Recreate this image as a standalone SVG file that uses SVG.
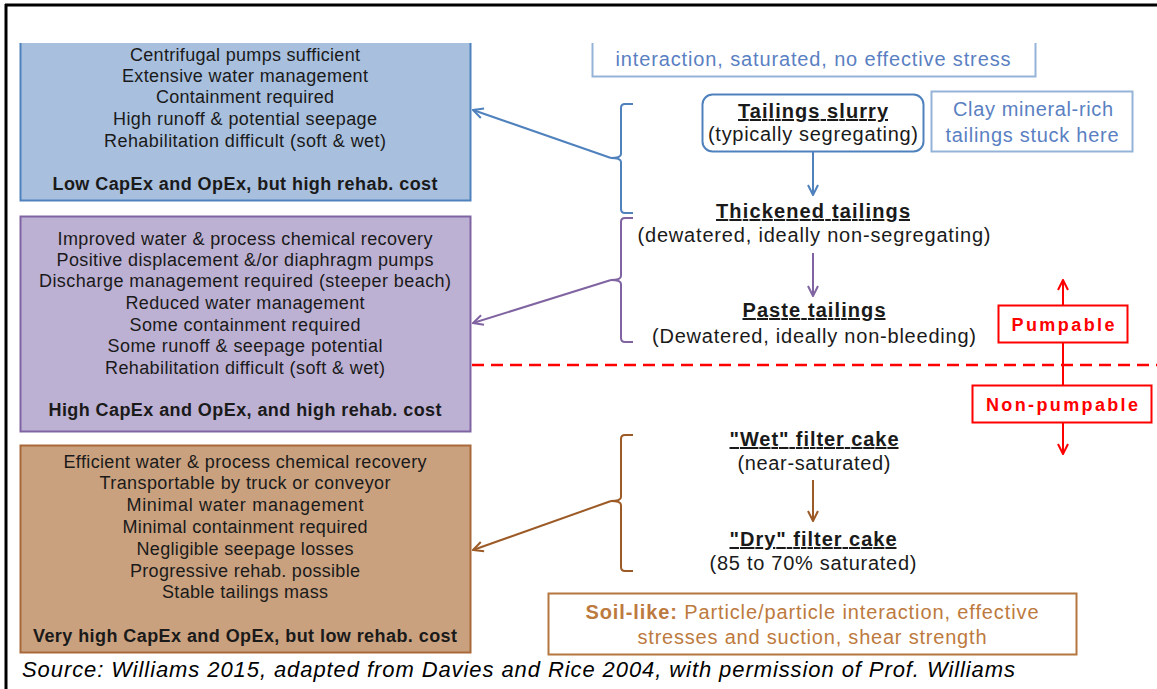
<svg xmlns="http://www.w3.org/2000/svg" width="1157" height="689" viewBox="0 0 1157 689">
<style>
text{font-family:"Liberation Sans",Arial,Helvetica,sans-serif;text-anchor:middle}
.bx{font-size:18px;fill:#1a1a1a}
.b{font-weight:bold}
.rt{font-size:20px;fill:#1a1a1a}
.hd{font-weight:bold;text-decoration:underline}
.lb{font-size:20px;fill:#5a7fc2}
.soil{font-size:20px;fill:#bd7a3e}
.red{font-size:18px;fill:#ff0000;font-weight:bold}
.cap{font-size:22px;font-style:italic;fill:#000;text-anchor:start}
.ln{fill:none;stroke-width:2}
</style>
<defs>
<marker id="ab" viewBox="0 0 12 12" refX="11" refY="6" markerWidth="12" markerHeight="12" markerUnits="userSpaceOnUse" orient="auto"><path d="M1,1 L11,6 L1,11" fill="none" stroke="#4f81bd" stroke-width="2"/></marker>
<marker id="ap" viewBox="0 0 12 12" refX="11" refY="6" markerWidth="12" markerHeight="12" markerUnits="userSpaceOnUse" orient="auto"><path d="M1,1 L11,6 L1,11" fill="none" stroke="#8064a2" stroke-width="2"/></marker>
<marker id="an" viewBox="0 0 12 12" refX="11" refY="6" markerWidth="12" markerHeight="12" markerUnits="userSpaceOnUse" orient="auto"><path d="M1,1 L11,6 L1,11" fill="none" stroke="#9c5a26" stroke-width="2"/></marker>
<marker id="ar" viewBox="0 0 12 12" refX="11" refY="6" markerWidth="12" markerHeight="12" markerUnits="userSpaceOnUse" orient="auto"><path d="M1,1 L11,6 L1,11" fill="none" stroke="#ff0000" stroke-width="2"/></marker>
</defs>
<rect width="1157" height="689" fill="#fff"/>
<g id="frame" stroke="#000" stroke-width="3" fill="none">
<line x1="5" y1="5" x2="1157" y2="5"/>
<line x1="6" y1="4" x2="6" y2="689"/>
</g>
<g id="box-blue">
<rect x="20" y="43" width="451" height="158" fill="#a8c0de"/>
<path d="M20.5,43 V200.5 H470.5 V43" fill="none" stroke="#4f81bd" stroke-width="2"/>
<text class="bx" x="245" y="61" textLength="230" lengthAdjust="spacing">Centrifugal pumps sufficient</text>
<text class="bx" x="245" y="82" textLength="246" lengthAdjust="spacing">Extensive water management</text>
<text class="bx" x="245" y="103" textLength="178" lengthAdjust="spacing">Containment required</text>
<text class="bx" x="245" y="125" textLength="264" lengthAdjust="spacing">High runoff &amp; potential seepage</text>
<text class="bx" x="245" y="147" textLength="282" lengthAdjust="spacing">Rehabilitation difficult (soft &amp; wet)</text>
<text class="bx b" x="245" y="190" textLength="385" lengthAdjust="spacing">Low CapEx and OpEx, but high rehab. cost</text>
</g>
<g id="box-purple">
<rect x="20.5" y="216.5" width="450" height="215" fill="#bdb1d3" stroke="#8064a2" stroke-width="2"/>
<text class="bx" x="245" y="245" textLength="375" lengthAdjust="spacing">Improved water &amp; process chemical recovery</text>
<text class="bx" x="245" y="266" textLength="377" lengthAdjust="spacing">Positive displacement &amp;/or diaphragm pumps</text>
<text class="bx" x="245" y="287" textLength="412" lengthAdjust="spacing">Discharge management required (steeper beach)</text>
<text class="bx" x="245" y="309" textLength="239" lengthAdjust="spacing">Reduced water management</text>
<text class="bx" x="245" y="331" textLength="231" lengthAdjust="spacing">Some containment required</text>
<text class="bx" x="245" y="352" textLength="275" lengthAdjust="spacing">Some runoff &amp; seepage potential</text>
<text class="bx" x="245" y="374" textLength="280" lengthAdjust="spacing">Rehabilitation difficult (soft &amp; wet)</text>
<text class="bx b" x="245" y="416" textLength="393" lengthAdjust="spacing">High CapEx and OpEx, and high rehab. cost</text>
</g>
<g id="box-brown">
<rect x="20.5" y="445.5" width="450" height="207" fill="#c9a17f" stroke="#a8683a" stroke-width="2"/>
<text class="bx" x="245" y="468" textLength="363" lengthAdjust="spacing">Efficient water &amp; process chemical recovery</text>
<text class="bx" x="245" y="489" textLength="291" lengthAdjust="spacing">Transportable by truck or conveyor</text>
<text class="bx" x="245" y="511" textLength="237" lengthAdjust="spacing">Minimal water management</text>
<text class="bx" x="245" y="533" textLength="245" lengthAdjust="spacing">Minimal containment required</text>
<text class="bx" x="245" y="555" textLength="217" lengthAdjust="spacing">Negligible seepage losses</text>
<text class="bx" x="245" y="577" textLength="230" lengthAdjust="spacing">Progressive rehab. possible</text>
<text class="bx" x="245" y="598" textLength="166" lengthAdjust="spacing">Stable tailings mass</text>
<text class="bx b" x="245" y="642" textLength="424" lengthAdjust="spacing">Very high CapEx and OpEx, but low rehab. cost</text>
</g>
<g id="box-fluid">
<path d="M592.5,43 V76.5 H1035.5 V43" fill="none" stroke="#95b3d7" stroke-width="2"/>
<text class="lb" x="813" y="66" textLength="395" lengthAdjust="spacing">interaction, saturated, no effective stress</text>
</g>
<g id="node-slurry">
<rect x="702.5" y="94.5" width="221" height="57" rx="10" fill="#fff" stroke="#4f81bd" stroke-width="2"/>
<text class="rt hd" x="813" y="118" textLength="150" lengthAdjust="spacing">Tailings slurry</text>
<text class="rt" x="813" y="141" textLength="210" lengthAdjust="spacing">(typically segregating)</text>
</g>
<g id="node-clay">
<rect x="931.5" y="91.5" width="201" height="60" fill="#fff" stroke="#95b3d7" stroke-width="2"/>
<text class="lb" x="1033" y="116" textLength="160" lengthAdjust="spacing">Clay mineral-rich</text>
<text class="lb" x="1032" y="142" textLength="173" lengthAdjust="spacing">tailings stuck here</text>
</g>
<g id="node-thickened">
<text class="rt hd" x="813" y="218" textLength="194" lengthAdjust="spacing">Thickened tailings</text>
<text class="rt" x="814" y="242" textLength="353" lengthAdjust="spacing">(dewatered, ideally non-segregating)</text>
</g>
<g id="node-paste">
<text class="rt hd" x="814" y="317" textLength="143" lengthAdjust="spacing">Paste tailings</text>
<text class="rt" x="814" y="343" textLength="324" lengthAdjust="spacing">(Dewatered, ideally non-bleeding)</text>
</g>
<g id="node-wet">
<text class="rt hd" x="814" y="446" textLength="169" lengthAdjust="spacing">"Wet" filter cake</text>
<text class="rt" x="814" y="470" textLength="153" lengthAdjust="spacing">(near-saturated)</text>
</g>
<g id="node-dry">
<text class="rt hd" x="813" y="546" textLength="167" lengthAdjust="spacing">"Dry" filter cake</text>
<text class="rt" x="813" y="570" textLength="207" lengthAdjust="spacing">(85 to 70% saturated)</text>
</g>
<g id="node-soil">
<rect x="548.5" y="593.5" width="528" height="61" fill="#fff" stroke="#b5773f" stroke-width="2"/>
<text class="soil" x="812" y="619" textLength="453" lengthAdjust="spacing"><tspan font-weight="bold">Soil-like:</tspan> Particle/particle interaction, effective</text>
<text class="soil" x="812" y="644" textLength="349" lengthAdjust="spacing">stresses and suction, shear strength</text>
</g>
<g id="label-pumpable">
<rect x="998.5" y="305.5" width="129" height="37" fill="#fff" stroke="#ff0000" stroke-width="2"/>
<text class="red" x="1063" y="331" textLength="103" lengthAdjust="spacing">Pumpable</text>
</g>
<g id="label-nonpumpable">
<rect x="972.5" y="385.5" width="179" height="37" fill="#fff" stroke="#ff0000" stroke-width="2"/>
<text class="red" x="1062" y="411" textLength="152" lengthAdjust="spacing">Non-pumpable</text>
</g>
<g id="connectors">
<line x1="472" y1="365" x2="1157" y2="365" stroke="#ff0000" stroke-width="2.5" stroke-dasharray="12 7"/>
<line x1="1063" y1="342" x2="1063" y2="386" stroke="#ff0000" stroke-width="2"/>
<line x1="1063" y1="305" x2="1063" y2="280" stroke="#ff0000" stroke-width="2" marker-end="url(#ar)"/>
<line x1="1063" y1="423" x2="1063" y2="454" stroke="#ff0000" stroke-width="2" marker-end="url(#ar)"/>
<path class="ln" stroke="#4f81bd" d="M633,104 H625 Q621,104 621,108 V154 Q621,158 611,158 Q621,158 621,162 V209 Q621,213 625,213 H633"/>
<path class="ln" stroke="#8064a2" d="M633,218 H625 Q621,218 621,222 V276 Q621,280 611,280 Q621,280 621,284 V338 Q621,342 625,342 H633"/>
<path class="ln" stroke="#9c5a26" d="M633,435 H625 Q621,435 621,439 V497 Q621,501 611,501 Q621,501 621,505 V567 Q621,571 625,571 H633"/>
<line x1="611" y1="158" x2="473" y2="110" stroke="#4f81bd" stroke-width="2" marker-end="url(#ab)"/>
<line x1="611" y1="280" x2="473" y2="323" stroke="#8064a2" stroke-width="2" marker-end="url(#ap)"/>
<line x1="611" y1="501" x2="473" y2="550" stroke="#9c5a26" stroke-width="2" marker-end="url(#an)"/>
<line x1="813" y1="152" x2="813" y2="195" stroke="#4f81bd" stroke-width="2" marker-end="url(#ab)"/>
<line x1="813" y1="253" x2="813" y2="296" stroke="#8064a2" stroke-width="2" marker-end="url(#ap)"/>
<line x1="813" y1="480" x2="813" y2="521" stroke="#9c5a26" stroke-width="2" marker-end="url(#an)"/>
</g>
<g id="caption">
<text class="cap" x="22" y="677" textLength="993" lengthAdjust="spacing">Source: Williams 2015, adapted from Davies and Rice 2004, with permission of Prof. Williams</text>
</g>
</svg>
